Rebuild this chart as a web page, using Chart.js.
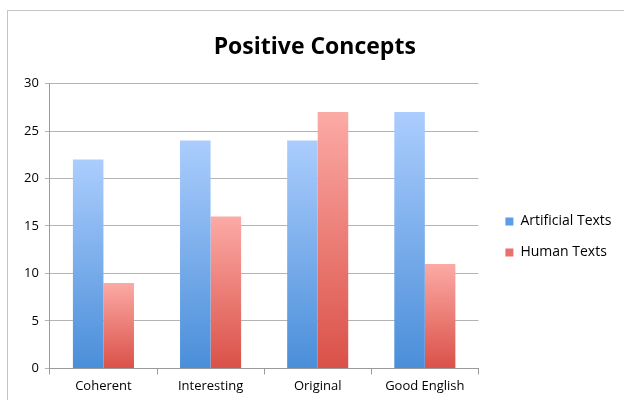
<!DOCTYPE html>
<html>
<head>
<meta charset="utf-8">
<script src="https://cdn.jsdelivr.net/npm/chart.js@4"></script>
<style>
  body { margin: 0; background: #fff; }
  #frame { position: absolute; left: 7px; top: 10px; width: 700px; height: 500px; border: 1px solid #c4c4c4; }
  #wrap { position: absolute; left: 0; top: 0; width: 624px; height: 400px; }
</style>
</head>
<body>
<div id="frame"></div>
<div id="wrap"><canvas id="chart" width="624" height="400"></canvas></div>
<script>
const categories = ["Coherent", "Interesting", "Original", "Good English"];
const artificialTexts = [22, 24, 24, 27];
const humanTexts = [9, 16, 27, 11];

const legendSwatch = ["#5d9ce6", "#e9716b"];

function barGradient(ctx, top, bottom) {
    const chart = ctx.chart;
    if (!chart.chartArea) return bottom;
    const y = chart.scales.y;
    const y0 = y.getPixelForValue(ctx.parsed.y);
    const y1 = y.getPixelForValue(0);
    if (!isFinite(y0) || y0 === y1) return bottom;
    const g = chart.ctx.createLinearGradient(0, y0, 0, y1);
    g.addColorStop(0, top);
    g.addColorStop(1, bottom);
    return g;
}

// nudge the legend right and down, it sits further from the plot in the original
const legendShift = {
    id: "legendShift",
    afterLayout(chart) {
        const l = chart.legend;
        l.left += 10; l.right += 10;
        l.top += 21; l.bottom += 21;
    }
};

new Chart(document.getElementById("chart"), {
    type: "bar",
    data: {
        labels: categories,
        datasets: [
            {
                label: "Artificial Texts",
                data: artificialTexts,
                backgroundColor: ctx => ctx.type === "data" ? barGradient(ctx, "#abcdfd", "#4a8ed9") : "#5d9ce6",
                borderWidth: 0
            },
            {
                label: "Human Texts",
                data: humanTexts,
                backgroundColor: ctx => ctx.type === "data" ? barGradient(ctx, "#fcaaa5", "#da5148") : "#e9716b",
                borderWidth: 0
            }
        ]
    },
    options: {
        responsive: false,
        animation: false,
        datasets: { bar: { categoryPercentage: 0.57, barPercentage: 1 } },
        layout: { padding: { top: 34, left: 18, bottom: 2, right: 12.5 } },
        plugins: {
            title: {
                display: true,
                text: "Positive Concepts",
                color: "#000",
                font: { family: "Open Sans", size: 23, weight: "bold" },
                padding: { top: 0, bottom: 22 }
            },
            legend: {
                position: "right",
                labels: {
                    boxWidth: 8,
                    boxHeight: 8,
                    padding: 17,
                    color: "#000",
                    font: { family: "Open Sans", size: 14 },
                    generateLabels(chart) {
                        return Chart.defaults.plugins.legend.labels.generateLabels(chart).map((item, i) => {
                            item.fillStyle = legendSwatch[i];
                            item.strokeStyle = legendSwatch[i];
                            item.lineWidth = 0;
                            return item;
                        });
                    }
                }
            },
            tooltip: { enabled: false }
        },
        scales: {
            x: {
                grid: { drawOnChartArea: false, color: "#9a9a9a", tickLength: 6 },
                border: { color: "#9a9a9a" },
                ticks: { color: "#000", font: { family: "Open Sans", size: 13 }, padding: 4 }
            },
            y: {
                min: 0,
                max: 30,
                grid: { color: "#b4b4b4", tickLength: 5 },
                border: { color: "#9a9a9a" },
                ticks: { stepSize: 5, color: "#000", font: { family: "Open Sans", size: 13 }, padding: 6 }
            }
        }
    },
    plugins: [legendShift]
});
</script>
</body>
</html>
